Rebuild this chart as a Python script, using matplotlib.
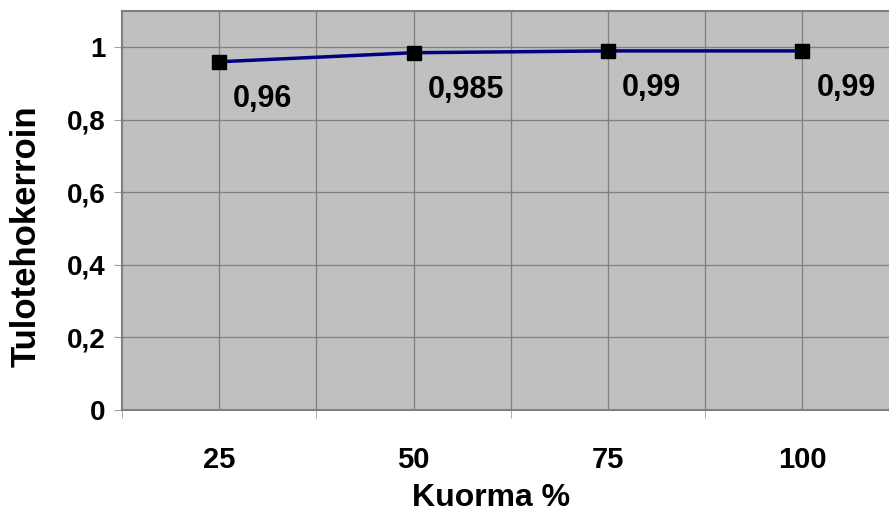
import matplotlib
matplotlib.use("Agg")
import matplotlib.pyplot as plt

categories = ["25", "50", "75", "100"]
values = [0.96, 0.985, 0.99, 0.99]
value_labels = ["0,96", "0,985", "0,99", "0,99"]
yticks = [0, 0.2, 0.4, 0.6, 0.8, 1.0]
ytick_labels = ["0", "0,2", "0,4", "0,6", "0,8", "1"]

plt.rcParams['font.family'] = ['Liberation Sans', 'DejaVu Sans']
plt.rcParams['font.weight'] = 'bold'

W, H = 889, 521
fig = plt.figure(figsize=(W / 100, H / 100), dpi=100)
ax = fig.add_axes([122 / W, (H - 410) / H, 1 - 122 / W, (410 - 11) / H])
ax.set_facecolor('#c0c0c0')

x = list(range(len(categories)))
ax.set_xlim(-0.5, 3.445)
ax.set_ylim(0, 1.1)

# grid lines: at category centres and boundaries
for xi in x:
    ax.axvline(xi, color='#808080', lw=0.9, zorder=1)
for xb in [0.5, 1.5, 2.5]:
    ax.axvline(xb, color='#808080', lw=0.9, zorder=1)
for yt in yticks[1:]:
    ax.axhline(yt, color='#808080', lw=0.9, zorder=1)

ax.plot(x, values, color='#000080', lw=2.5, marker='s', markersize=10.5,
        markerfacecolor='black', markeredgecolor='black', zorder=3)

for xi, v, lab in zip(x, values, value_labels):
    ax.annotate(lab, (xi, v), xytext=(10, -27), textcoords='offset points',
                ha='left', va='center', fontsize=22, fontweight='bold', color='black')

ax.set_yticks(yticks)
ax.set_yticklabels(ytick_labels, fontsize=20, fontweight='bold')
ax.set_xticks(x)
ax.set_xticklabels(categories, fontsize=21, fontweight='bold')
ax.tick_params(axis='x', length=0, pad=26)
ax.tick_params(axis='y', length=6, color='#a0a0a0', pad=6)
# boundary ticks on x axis
ax.set_xticks([-0.5, 0.5, 1.5, 2.5], minor=True)
ax.tick_params(axis='x', which='minor', length=6, color='#a0a0a0')

for side in ['top', 'right', 'left', 'bottom']:
    ax.spines[side].set_color('#808080')
    ax.spines[side].set_linewidth(1.5)
ax.spines['right'].set_visible(False)

fig.text(26 / W, 1 - 236 / H, 'Tulotehokerroin', rotation=90, ha='center', va='center',
         fontsize=25, fontweight='bold')
fig.text(491 / W, 1 - 498 / H, 'Kuorma %', ha='center', va='center',
         fontsize=23, fontweight='bold')

fig.savefig('out.png', dpi=100)
